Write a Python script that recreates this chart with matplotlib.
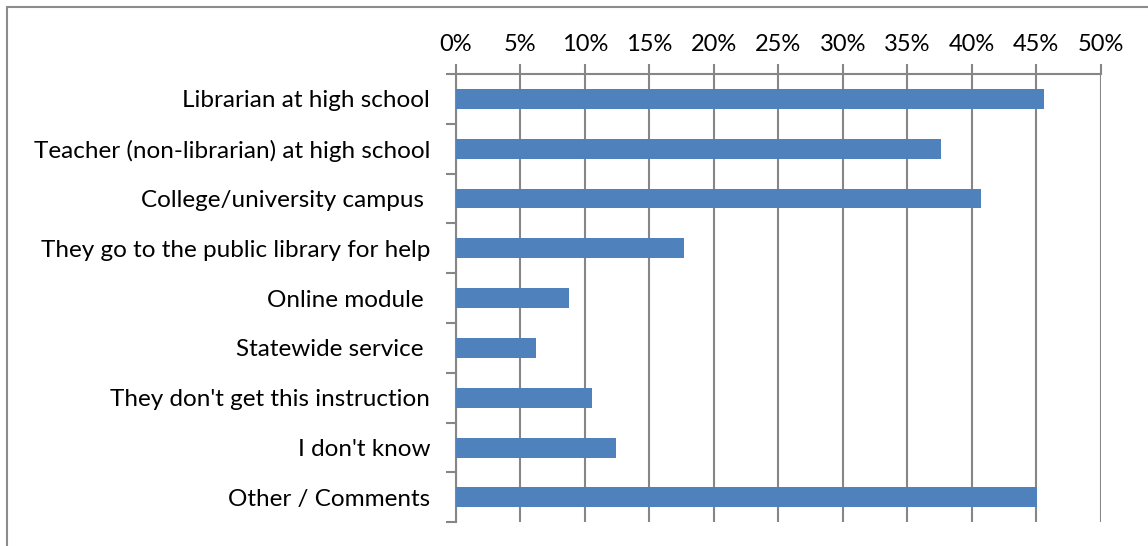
import matplotlib.pyplot as plt
from matplotlib.patches import Rectangle
from matplotlib.ticker import PercentFormatter, FixedLocator

categories = [
    "Librarian at high school",
    "Teacher (non-librarian) at high school",
    "College/university campus ",
    "They go to the public library for help",
    "Online module ",
    "Statewide service ",
    "They don't get this instruction",
    "I don't know",
    "Other / Comments",
]
values = [45.6, 37.6, 40.7, 17.7, 8.8, 6.2, 10.6, 12.4, 45.1]
x_ticks = [0, 5, 10, 15, 20, 25, 30, 35, 40, 45, 50]

plt.rcParams['font.family'] = ['Lato', 'DejaVu Sans']
grey = '#868686'

fig = plt.figure(figsize=(11.48, 5.46), dpi=100)
ax = fig.add_axes([0.397, 0.0434, 0.9588 - 0.397, 0.8645 - 0.0434])

# chart border (only top/left fall inside the image)
fig.patches.append(Rectangle((7 / 1148, -0.1), 1.2, 1 - 7 / 546 + 0.1,
                             transform=fig.transFigure, fill=False,
                             edgecolor='#8c8c8c', linewidth=1.5))

pos = list(range(len(categories)))
ax.barh(pos, values, height=0.4, color='#4F81BD', zorder=3)
ax.set_ylim(len(categories) - 0.5, -0.5)
ax.set_xlim(0, 50)

ax.set_yticks(pos)
ax.set_yticklabels(categories, fontsize=17.5)
ax.yaxis.set_minor_locator(FixedLocator([p - 0.5 for p in range(len(categories) + 1)]))
ax.tick_params(axis='y', which='major', length=0, pad=18.5)
ax.tick_params(axis='y', which='minor', length=7, width=1.5, color=grey)

ax.xaxis.tick_top()
ax.set_xticks(x_ticks)
ax.xaxis.set_major_formatter(PercentFormatter(decimals=0))
ax.tick_params(axis='x', length=7, width=1.5, color=grey, labelsize=17, pad=7)
ax.grid(axis='x', color=grey, linewidth=1.5, zorder=0)

for side in ['right', 'bottom']:
    ax.spines[side].set_visible(False)
for side in ['left', 'top']:
    ax.spines[side].set_color(grey)
    ax.spines[side].set_linewidth(1.5)

fig.savefig('out.png', dpi=100)
